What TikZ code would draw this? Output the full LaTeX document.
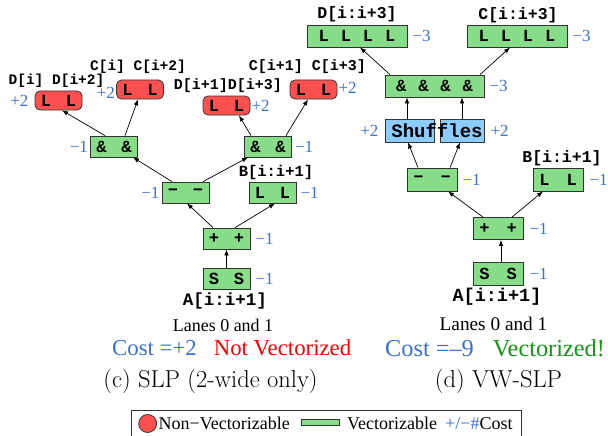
\documentclass[tikz,border=0pt]{standalone}
\usepackage{fontspec}
\usetikzlibrary{arrows.meta}
\newfontfamily\tms{Liberation Serif}
\newfontfamily\cour{Liberation Mono}
\definecolor{nred}{RGB}{255,80,80}
\definecolor{vgreen}{RGB}{136,221,136}
\definecolor{sblue}{RGB}{140,204,255}
\definecolor{cblue}{RGB}{60,112,215}
\definecolor{okgreen}{RGB}{20,150,20}
\newcommand\fsz[1]{\fontsize{#1}{#1}\selectfont}
\newcommand\gl{\hspace{15pt}}
\newcommand\gr{\hspace{17pt}}
\newcommand\gf{\hspace{12pt}}
\tikzset{
  box/.style={draw=black!80, line width=0.8pt, inner sep=0pt, font=\cour\bfseries\fsz{17}},
  vec/.style={box, fill=vgreen},
  nonvec/.style={box, fill=nred, rounded corners=5pt, minimum width=47pt, minimum height=19pt},
  sm/.style={minimum width=47pt, minimum height=21pt},
  rsm/.style={minimum width=50pt, minimum height=23pt},
  wide/.style={minimum width=100pt, minimum height=22pt},
  shuf/.style={box, fill=sblue, minimum height=23pt},
  cost/.style={text=cblue, font=\tms\fsz{17}, inner sep=0pt},
  lbl/.style={font=\cour\bfseries\fsz{#1}, inner sep=0pt},
  txt/.style={font=\tms\fsz{#1}, inner sep=0pt},
  arr/.style={-{Latex[length=6pt,width=4.5pt]}, line width=0.7pt}
}
\begin{document}
\begin{tikzpicture}[x=1pt,y=-1pt]
\useasboundingbox (0,0) rectangle (608,436);
% ---------- (c) ----------
\node[nonvec] (R1) at (58.5,100.5) {L\gl L};
\node[nonvec] (R2) at (140,89.5) {L\gl L};
\node[nonvec] (R3) at (226.5,105.5) {L\gl L};
\node[nonvec] (R4) at (313.5,89.5) {L\gl L};
\node[vec,sm] (A1) at (114,146.5) {\&\gl\&};
\node[vec,sm] (A2) at (268,146.5) {\&\gl\&};
\node[vec,sm] (M) at (185.5,192.5) {−\gl −};
\node[vec,sm] (B) at (272.5,192.5) {L\gl L};
\node[vec,sm] (P) at (226.5,238.5) {+\gl +};
\node[vec,sm] (S) at (226.5,279) {S\gl S};

\node[lbl=14.5] (lR1) at (56.5,80.5) {D[i] D[i+2]};
\node[lbl=14.5] (lR2) at (138,67) {C[i] C[i+2]};
\node[lbl=15] (lR3) at (228,85.5) {D[i+1]D[i+3]};
\node[lbl=15] (lR4) at (307.5,66.5) {C[i+1] C[i+3]};
\node[lbl=15.5] (lB) at (276,172.5) {B[i:i+1]};
\node[lbl=17.5] (lS) at (225,300.5) {A[i:i+1]};

\node[cost,anchor=east] (cR1) at ([xshift=-6pt]R1.west) {+2};
\node[cost,anchor=east] (cR2) at ([xshift=-1pt,yshift=-3.5pt]R2.west) {+2};
\node[cost,anchor=west] (cR3) at ([xshift=1pt]R3.east) {+2};
\node[cost,anchor=west] (cR4) at ([xshift=1pt,yshift=2pt]R4.east) {+2};
\node[cost,anchor=east] (cA1) at ([xshift=-2pt]A1.west) {−1};
\node[cost,anchor=west] (cA2) at ([xshift=3pt]A2.east) {−1};
\node[cost,anchor=east] (cM) at ([xshift=-2pt]M.west) {−1};
\node[cost,anchor=west] (cB) at ([xshift=4pt]B.east) {−1};
\node[cost,anchor=west] (cP) at ([xshift=5pt]P.east) {−1};
\node[cost,anchor=west] (cS) at ([xshift=5pt]S.east) {−1};

\draw[arr] (S.north) -- (P.south);
\draw[arr] ([xshift=-13.5pt]P.north) -- ([xshift=1.5pt]M.south);
\draw[arr] ([xshift=8.5pt]P.north) -- ([xshift=2.5pt]B.south);
\draw[arr] ([xshift=-13.5pt]M.north) -- ([xshift=19pt]A1.south);
\draw[arr] ([xshift=17.5pt]M.north) -- ([xshift=-20pt]A2.south);
\draw[arr] ([xshift=-9pt]A1.north) -- ([xshift=3.5pt]R1.south);
\draw[arr] ([xshift=11pt]A1.north) -- ([xshift=-2pt]R2.south);
\draw[arr] ([xshift=-17pt]A2.north) -- ([xshift=12.5pt]R3.south);
\draw[arr] ([xshift=18pt]A2.north) -- ([xshift=-5.5pt]R4.south);

\node[txt=18] (lanesc) at (223,325) {Lanes 0 and 1};
\node[txt=22.8,anchor=west] (costc) at (112,348) {\textcolor{cblue}{Cost =+2}\hspace{17pt}\textcolor{red}{Not Vectorized}};
\node[font=\fsz{24.5}, inner sep=0pt] (capc) at (210.5,381) {(c) SLP (2-wide only)};

% ---------- (d) ----------
\node[vec,wide] (D4) at (357,36) {L\gf L\gf L\gf L};
\node[vec,wide] (C4) at (517,36) {L\gf L\gf L\gf L};
\node[vec,minimum width=99pt,minimum height=22pt] (AND4) at (434.5,86) {\&\gf\&\gf\&\gf\&};
\node[shuf,minimum width=49pt] (sh1) at (409.5,130.5) {};
\node[shuf,minimum width=44pt] (sh2) at (462,130.5) {};
\node[lbl=19] (shtxt) at (437,131) {Shuffles};
\node[vec,rsm] (M2) at (432,179.5) {−\gr −};
\node[vec,rsm] (B2) at (558,179.5) {L\gr L};
\node[vec,rsm,minimum height=22pt] (P2) at (498,228.5) {+\gr +};
\node[vec,rsm] (S2) at (498,273.5) {S\gr S};

\node[lbl=16.5] (lD4) at (357,14.5) {D[i:i+3]};
\node[lbl=16.5] (lC4) at (518,15) {C[i:i+3]};
\node[lbl=16.5] (lB2) at (562,158.5) {B[i:i+1]};
\node[lbl=18.5] (lS2) at (497,297) {A[i:i+1]};

\node[cost,anchor=west] (cD4) at ([xshift=5pt]D4.east) {−3};
\node[cost,anchor=west] (cC4) at ([xshift=5pt]C4.east) {−3};
\node[cost,anchor=west] (cAND4) at ([xshift=5pt]AND4.east) {−3};
\node[cost,anchor=east] (csh1) at ([xshift=-6pt]sh1.west) {+2};
\node[cost,anchor=west] (csh2) at ([xshift=6pt]sh2.east) {+2};
\node[cost,anchor=west] (cM2) at ([xshift=5pt]M2.east) {−1};
\node[cost,anchor=west] (cB2) at ([xshift=6pt]B2.east) {−1};
\node[cost,anchor=west] (cP2) at ([xshift=6pt]P2.east) {−1};
\node[cost,anchor=west] (cS2) at ([xshift=6pt]S2.east) {−1};

\draw[arr] ([xshift=3pt]S2.north) -- ([xshift=3pt]P2.south);
\draw[arr] ([xshift=-15pt]P2.north) -- ([xshift=16pt]M2.south);
\draw[arr] ([xshift=14pt]P2.north) -- ([xshift=-15pt]B2.south);
\draw[arr] ([xshift=-14pt]M2.north) -- ([xshift=-1.5pt]sh1.south);
\draw[arr] ([xshift=18pt]M2.north) -- ([xshift=-2pt]sh2.south);
\draw[arr] ([xshift=-2.5pt]sh1.north) -- ([xshift=-27.5pt]AND4.south);
\draw[arr] (sh2.north) -- ([xshift=27.5pt]AND4.south);
\draw[arr] ([xshift=-44.5pt]AND4.north) -- ([xshift=3pt]D4.south);
\draw[arr] ([xshift=45.5pt]AND4.north) -- ([xshift=-7pt]C4.south);

\node[txt=19.3] (lanesd) at (493.5,323.5) {Lanes 0 and 1};
\node[txt=24.3,anchor=west] (costd) at (385,348) {\textcolor{cblue}{Cost =–9}\hspace{19pt}\textcolor{okgreen}{Vectorized!}};
\node[font=\fsz{24.5}, inner sep=0pt] (capd) at (498.5,381) {(d) VW-SLP};

% ---------- legend ----------
\draw[line width=0.8pt, draw=black!80] (131,410) rectangle (521,437);
\node[circle, draw=black!80, fill=nred, minimum size=18pt, inner sep=0pt, line width=0.8pt] (legc) at (147.7,423.5) {};
\node[txt=18, anchor=west] (legn) at (158.5,423.5) {Non−Vectorizable};
\node[draw=black!80, fill=vgreen, minimum width=38pt, minimum height=6.5pt, inner sep=0pt, line width=0.8pt] (legr) at (320,422.3) {};
\node[txt=18, anchor=west] (legv) at (347,423.5) {Vectorizable};
\node[txt=18, anchor=west] (legk) at (445,423.5) {\textcolor{cblue}{+/−\#}Cost};
\end{tikzpicture}
\end{document}
